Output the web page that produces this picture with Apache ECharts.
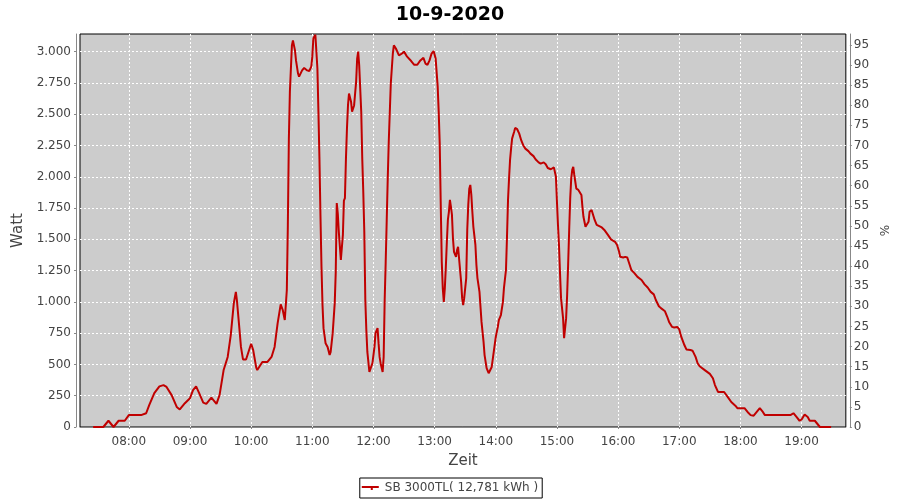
<!DOCTYPE html>
<html>
<head>
<meta charset="utf-8">
<script src="https://cdn.jsdelivr.net/npm/echarts@6/dist/echarts.min.js"></script>
<style>html,body{margin:0;padding:0;background:#fff}#c{width:900px;height:500px}</style>
</head>
<body>
<div id="c"></div>
<script>
const chartTitle = '10-9-2020';
const seriesName = 'SB 3000TL( 12,781 kWh )';
const day = '2020-09-10';
const times = ['07:25','07:35','07:40','07:45','07:50','07:56','08:00','08:12','08:17','08:20','08:25','08:30','08:34','08:37','08:42','08:47','08:50','08:55','09:00','09:03','09:06','09:09','09:13','09:16','09:21','09:26','09:29','09:33','09:37','09:40','09:43','09:45','09:46','09:48','09:50','09:52','09:55','09:58','10:00','10:02','10:05','10:06','10:11','10:13','10:16','10:20','10:23','10:26','10:29','10:31','10:33','10:35','10:36','10:37','10:38','10:40','10:41','10:42','10:43','10:44','10:46','10:47','10:50','10:52','10:55','10:57','10:59','11:00','11:01','11:03','11:04','11:05','11:06','11:07','11:08','11:09','11:10','11:11','11:13','11:15','11:17','11:18','11:20','11:22','11:23','11:24','11:25','11:26','11:28','11:29','11:30','11:31','11:32','11:33','11:34','11:35','11:36','11:38','11:39','11:41','11:43','11:44','11:45','11:46','11:48','11:49','11:50','11:51','11:52','11:53','11:54','11:56','11:57','11:59','12:01','12:02','12:04','12:05','12:06','12:07','12:09','12:10','12:11','12:12','12:13','12:14','12:15','12:17','12:19','12:20','12:21','12:22','12:25','12:28','12:30','12:33','12:37','12:40','12:43','12:46','12:49','12:51','12:53','12:55','12:57','12:59','13:01','13:03','13:04','13:05','13:06','13:07','13:08','13:09','13:10','13:11','13:12','13:13','13:14','13:15','13:16','13:17','13:18','13:19','13:21','13:22','13:23','13:24','13:26','13:27','13:28','13:29','13:31','13:32','13:33','13:34','13:35','13:36','13:37','13:38','13:40','13:41','13:42','13:44','13:45','13:46','13:48','13:49','13:51','13:53','13:54','13:56','13:58','14:00','14:02','14:03','14:05','14:07','14:08','14:10','14:11','14:12','14:13','14:14','14:15','14:16','14:18','14:19','14:21','14:23','14:25','14:27','14:29','14:32','14:34','14:37','14:39','14:42','14:44','14:47','14:49','14:51','14:54','14:57','14:58','14:59','15:00','15:01','15:02','15:03','15:04','15:06','15:07','15:08','15:09','15:10','15:11','15:12','15:13','15:14','15:15','15:16','15:17','15:18','15:19','15:21','15:22','15:24','15:25','15:26','15:28','15:29','15:31','15:32','15:34','15:35','15:37','15:39','15:40','15:44','15:47','15:50','15:53','15:57','15:59','16:01','16:02','16:05','16:07','16:09','16:11','16:13','16:16','16:19','16:23','16:26','16:29','16:32','16:35','16:37','16:40','16:42','16:46','16:48','16:50','16:53','16:55','16:58','17:00','17:02','17:05','17:07','17:11','17:13','17:16','17:18','17:20','17:25','17:30','17:33','17:35','17:38','17:44','17:48','17:51','17:55','17:57','18:04','18:07','18:10','18:13','18:16','18:19','18:22','18:24','18:28','18:36','18:49','18:52','18:55','18:58','19:00','19:03','19:06','19:08','19:13','19:15','19:18','19:29'];
const watts = [0,0,50,0,50,50,95,95,110,175,270,325,335,320,255,160,140,190,230,295,325,270,195,185,235,185,255,455,560,735,990,1080,1015,830,640,540,540,615,665,615,475,455,520,520,520,560,640,830,980,935,855,1095,1610,2300,2680,3050,3090,3105,3010,2930,2825,2800,2850,2870,2850,2845,2880,2960,3105,3135,3130,2865,2520,2145,1690,1280,975,790,670,640,575,600,750,990,1240,1790,1705,1560,1335,1320,1535,1810,1830,2145,2385,2570,2665,2600,2520,2570,2760,2945,3000,2890,2520,2145,1880,1560,1015,775,600,440,430,510,640,750,790,670,560,510,440,560,1015,1320,1650,1985,2280,2745,2985,3050,3065,3025,2970,2985,3000,2960,2925,2895,2895,2930,2950,2905,2895,2930,2985,3005,2945,2720,2520,2265,1780,1320,1108,1000,1108,1280,1480,1655,1720,1815,1760,1695,1505,1400,1360,1415,1440,1345,1160,1030,975,1030,1190,1575,1775,1905,1935,1855,1720,1600,1455,1295,1190,1080,960,840,680,575,470,430,430,480,600,720,800,855,895,1000,1110,1255,1520,1815,1985,2135,2225,2305,2360,2390,2380,2345,2290,2250,2225,2205,2185,2165,2140,2115,2105,2115,2100,2070,2060,2075,2070,2000,1800,1615,1455,1230,1030,870,710,710,870,1055,1305,1575,1825,1985,2055,2080,2015,1960,1905,1895,1895,1855,1760,1680,1600,1600,1640,1720,1735,1720,1655,1615,1605,1595,1570,1535,1500,1480,1455,1400,1360,1355,1360,1355,1305,1255,1230,1200,1175,1140,1115,1080,1060,1015,965,950,925,885,840,800,795,800,780,720,655,620,615,610,560,510,485,455,425,390,335,280,280,235,200,170,150,150,120,95,90,120,150,120,95,95,95,95,110,80,50,60,100,80,50,50,30,0,0];
const xRange = ['07:12:06','19:43:24'];
const wattRange = [0, 3141];
const wattStep = 250;
const pctRange = [0, 97.7];
const pctStep = 5;

const data = times.map((t, i) => [day + ' ' + t, watts[i]]);
const font = 'DejaVu Sans';
const fmtWatt = v => v >= 1000 ? Math.floor(v / 1000) + '.' + String(v % 1000).padStart(3, '0') : String(v);
const gridLine = {show: true, showMinLine: false, showMaxLine: false, lineStyle: {color: '#fff', width: 1, type: [2, 2]}};

const chart = echarts.init(document.getElementById('c'), null, {renderer: 'canvas'});
chart.setOption({
  animation: false,
  textStyle: {fontFamily: font},
  title: {
    text: chartTitle, left: 'center', top: 1,
    textStyle: {fontFamily: font, fontSize: 19, fontWeight: 'bold', color: '#000'}
  },
  legend: {
    data: [seriesName], left: 'center', top: 478,
    padding: [4, 4, 4, 2], itemGap: 0, itemWidth: 17, itemHeight: 6,
    borderColor: '#000', borderWidth: 1,
    icon: 'path://M0,2L17,2L17,4L0,4Z M9,4L11,4L11,6L9,6Z',
    textStyle: {fontFamily: font, fontSize: 12, color: '#444', padding: [0, 0, 0, 1]}
  },
  grid: {
    left: 80, right: 52, top: 34, bottom: 73,
    show: true, backgroundColor: '#cccccc', borderColor: '#000', borderWidth: 1
  },
  xAxis: {
    type: 'time',
    min: day + ' ' + xRange[0], max: day + ' ' + xRange[1],
    minInterval: 3600 * 1000, maxInterval: 3600 * 1000,
    offset: 4,
    name: 'Zeit', nameLocation: 'middle', nameGap: 23,
    nameTextStyle: {fontFamily: font, fontSize: 15, color: '#444'},
    axisLine: {show: true, lineStyle: {color: '#888', width: 1}},
    axisTick: {show: true, length: 2, lineStyle: {color: '#888'}},
    axisLabel: {formatter: '{HH}:{mm}', fontFamily: font, fontSize: 12, color: '#444', margin: 5, hideOverlap: false},
    splitLine: gridLine
  },
  yAxis: [{
    type: 'value', position: 'left',
    min: wattRange[0], max: wattRange[1], interval: wattStep,
    offset: 4,
    name: 'Watt', nameLocation: 'middle', nameGap: 41, nameRotate: 90,
    nameTextStyle: {fontFamily: font, fontSize: 15, color: '#444'},
    axisLine: {show: true, lineStyle: {color: '#888', width: 1}},
    axisTick: {show: true, length: 2, lineStyle: {color: '#888'}},
    axisLabel: {formatter: fmtWatt, fontFamily: font, fontSize: 12, color: '#444', margin: 5, showMaxLabel: false},
    splitLine: gridLine
  }, {
    type: 'value', position: 'right',
    min: pctRange[0], max: pctRange[1], interval: pctStep,
    offset: 4,
    name: '%', nameLocation: 'middle', nameGap: 22, nameRotate: 90,
    nameTextStyle: {fontFamily: font, fontSize: 12, color: '#444'},
    axisLine: {show: true, lineStyle: {color: '#888', width: 1}},
    axisTick: {show: true, length: 2, lineStyle: {color: '#888'}},
    axisLabel: {fontFamily: font, fontSize: 12, color: '#444', margin: 4, showMaxLabel: false},
    splitLine: {show: false}
  }],
  series: [{
    name: seriesName, type: 'line', yAxisIndex: 0,
    data: data, showSymbol: false, symbol: 'none',
    lineStyle: {color: '#c00000', width: 2},
    itemStyle: {color: '#c00000'}
  }]
});
</script>
</body>
</html>
